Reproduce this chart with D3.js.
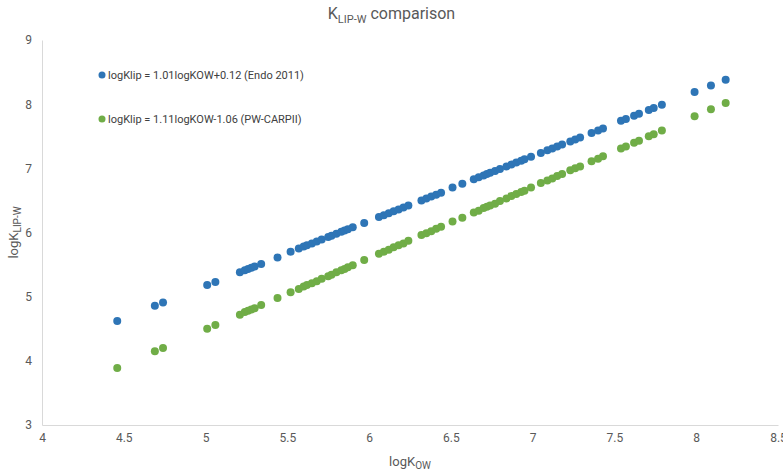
<!DOCTYPE html>
<html>
<head>
<meta charset="utf-8">
<script src="https://cdn.jsdelivr.net/npm/d3@7"></script>
<style>
  body { margin: 0; background: #fff; }
  text { font-family: 'Liberation Sans Narrow', 'Roboto', sans-serif; }
</style>
</head>
<body>
<div id="chart"></div>
<script>
// logKow values, shared by both series
const logKow = [4.46, 4.69, 4.74, 5.01, 5.06, 5.21, 5.24, 5.26, 5.28, 5.30, 5.34, 5.44, 5.52, 5.57, 5.60,
  5.62, 5.65, 5.68, 5.71, 5.75, 5.77, 5.80, 5.83, 5.85, 5.87, 5.90, 5.97, 6.06, 6.09, 6.12, 6.15, 6.18,
  6.21, 6.24, 6.32, 6.35, 6.38, 6.41, 6.44, 6.51, 6.57, 6.64, 6.67, 6.70, 6.72, 6.74, 6.77, 6.80, 6.84,
  6.87, 6.90, 6.93, 6.95, 6.99, 7.05, 7.09, 7.12, 7.15, 7.18, 7.23, 7.26, 7.29, 7.36, 7.40, 7.43, 7.54,
  7.57, 7.62, 7.65, 7.71, 7.74, 7.79, 7.99, 8.09, 8.18]

const endoKlip = [4.62, 4.86, 4.91, 5.18, 5.23, 5.38, 5.41, 5.43, 5.45, 5.47, 5.51, 5.61, 5.70, 5.75, 5.78,
  5.80, 5.83, 5.86, 5.89, 5.93, 5.95, 5.98, 6.01, 6.03, 6.05, 6.08, 6.15, 6.24, 6.27, 6.30, 6.33, 6.36,
  6.39, 6.42, 6.50, 6.53, 6.56, 6.59, 6.62, 6.70, 6.76, 6.83, 6.86, 6.89, 6.91, 6.93, 6.96, 6.99, 7.03,
  7.06, 7.09, 7.12, 7.14, 7.18, 7.24, 7.28, 7.31, 7.34, 7.37, 7.42, 7.45, 7.48, 7.55, 7.59, 7.62, 7.74,
  7.77, 7.82, 7.85, 7.91, 7.94, 7.99, 8.19, 8.29, 8.38]

const carpKlip = [3.89, 4.15, 4.20, 4.50, 4.56, 4.72, 4.76, 4.78, 4.80, 4.82, 4.87, 4.98, 5.07, 5.12, 5.16,
  5.18, 5.21, 5.24, 5.28, 5.32, 5.34, 5.38, 5.41, 5.43, 5.46, 5.49, 5.57, 5.67, 5.70, 5.73, 5.77, 5.80,
  5.83, 5.87, 5.96, 5.99, 6.02, 6.06, 6.09, 6.17, 6.23, 6.31, 6.34, 6.38, 6.40, 6.42, 6.45, 6.49, 6.53,
  6.57, 6.60, 6.63, 6.65, 6.70, 6.77, 6.81, 6.84, 6.88, 6.91, 6.97, 7.00, 7.03, 7.11, 7.15, 7.19, 7.31,
  7.34, 7.40, 7.43, 7.50, 7.53, 7.59, 7.81, 7.92, 8.02]

const xTicks = [4, 4.5, 5, 5.5, 6, 6.5, 7, 7.5, 8, 8.5]
const yTicks = [3, 4, 5, 6, 7, 8, 9]
const seriesNames = ['logKlip = 1.01logKOW+0.12 (Endo 2011)', 'logKlip = 1.11logKOW-1.06 (PW-CARPII)']
const colors = ['#2e75b6', '#70ad47']

const width = 783
const height = 472
const margin = { top: 40, right: 5, bottom: 47, left: 42 }
const innerW = width - margin.left - margin.right
const innerH = height - margin.top - margin.bottom

const svg = d3.select('#chart')
  .append('svg')
  .attr('width', width)
  .attr('height', height)

const x = d3.scaleLinear().domain([4, 8.5]).range([0, innerW])
const y = d3.scaleLinear().domain([3, 9]).range([innerH, 0])

const g = svg.append('g')
  .attr('transform', `translate(${margin.left},${margin.top})`)

// axes
const xAxis = g.append('g')
  .attr('transform', `translate(0,${innerH})`)
  .call(d3.axisBottom(x).tickValues(xTicks).tickSize(0).tickPadding(8).tickFormat(d3.format('')))
xAxis.select('.domain').attr('stroke', '#d9d9d9')
xAxis.selectAll('text').attr('fill', '#595959').style('font-size', '12px')

const yAxis = g.append('g')
  .call(d3.axisLeft(y).tickValues(yTicks).tickSize(0).tickPadding(10).tickFormat(d3.format('')))
yAxis.select('.domain').attr('stroke', '#d9d9d9')
yAxis.selectAll('text').attr('fill', '#595959').style('font-size', '12px')

// points
const series = [endoKlip, carpKlip]
series.forEach((vals, i) => {
  g.append('g')
    .selectAll('circle')
    .data(logKow.map((k, j) => ({ x: k, y: vals[j] })))
    .join('circle')
    .attr('cx', d => x(d.x))
    .attr('cy', d => y(d.y))
    .attr('r', 4)
    .attr('fill', colors[i])
})

// legend
const legend = g.append('g')
seriesNames.forEach((name, i) => {
  const row = legend.append('g').attr('transform', `translate(60,${35 + i * 44})`)
  row.append('circle').attr('r', 3.5).attr('fill', colors[i])
  row.append('text')
    .attr('x', 6)
    .attr('dy', '0.35em')
    .attr('fill', '#404040')
    .style('font-size', '11px')
    .text(name)
})

// title
const title = svg.append('text')
  .attr('x', width / 2)
  .attr('y', 19)
  .attr('text-anchor', 'middle')
  .attr('fill', '#595959')
  .style('font-size', '16px')
title.append('tspan').text('K')
title.append('tspan').attr('dy', 4).style('font-size', '11px').text('LIP-W')
title.append('tspan').attr('dy', -4).text(' comparison')

// axis titles
const xt = svg.append('text')
  .attr('x', margin.left + x(6.25))
  .attr('y', 466)
  .attr('text-anchor', 'middle')
  .attr('fill', '#595959')
  .style('font-size', '13px')
xt.append('tspan').text('logK')
xt.append('tspan').attr('dy', 3).style('font-size', '10px').text('OW')

const yt = svg.append('text')
  .attr('transform', `translate(18,${margin.top + innerH / 2}) rotate(-90)`)
  .attr('text-anchor', 'middle')
  .attr('fill', '#595959')
  .style('font-size', '13px')
yt.append('tspan').text('logK')
yt.append('tspan').attr('dy', 3).style('font-size', '10px').text('LIP-W')
</script>
</body>
</html>
